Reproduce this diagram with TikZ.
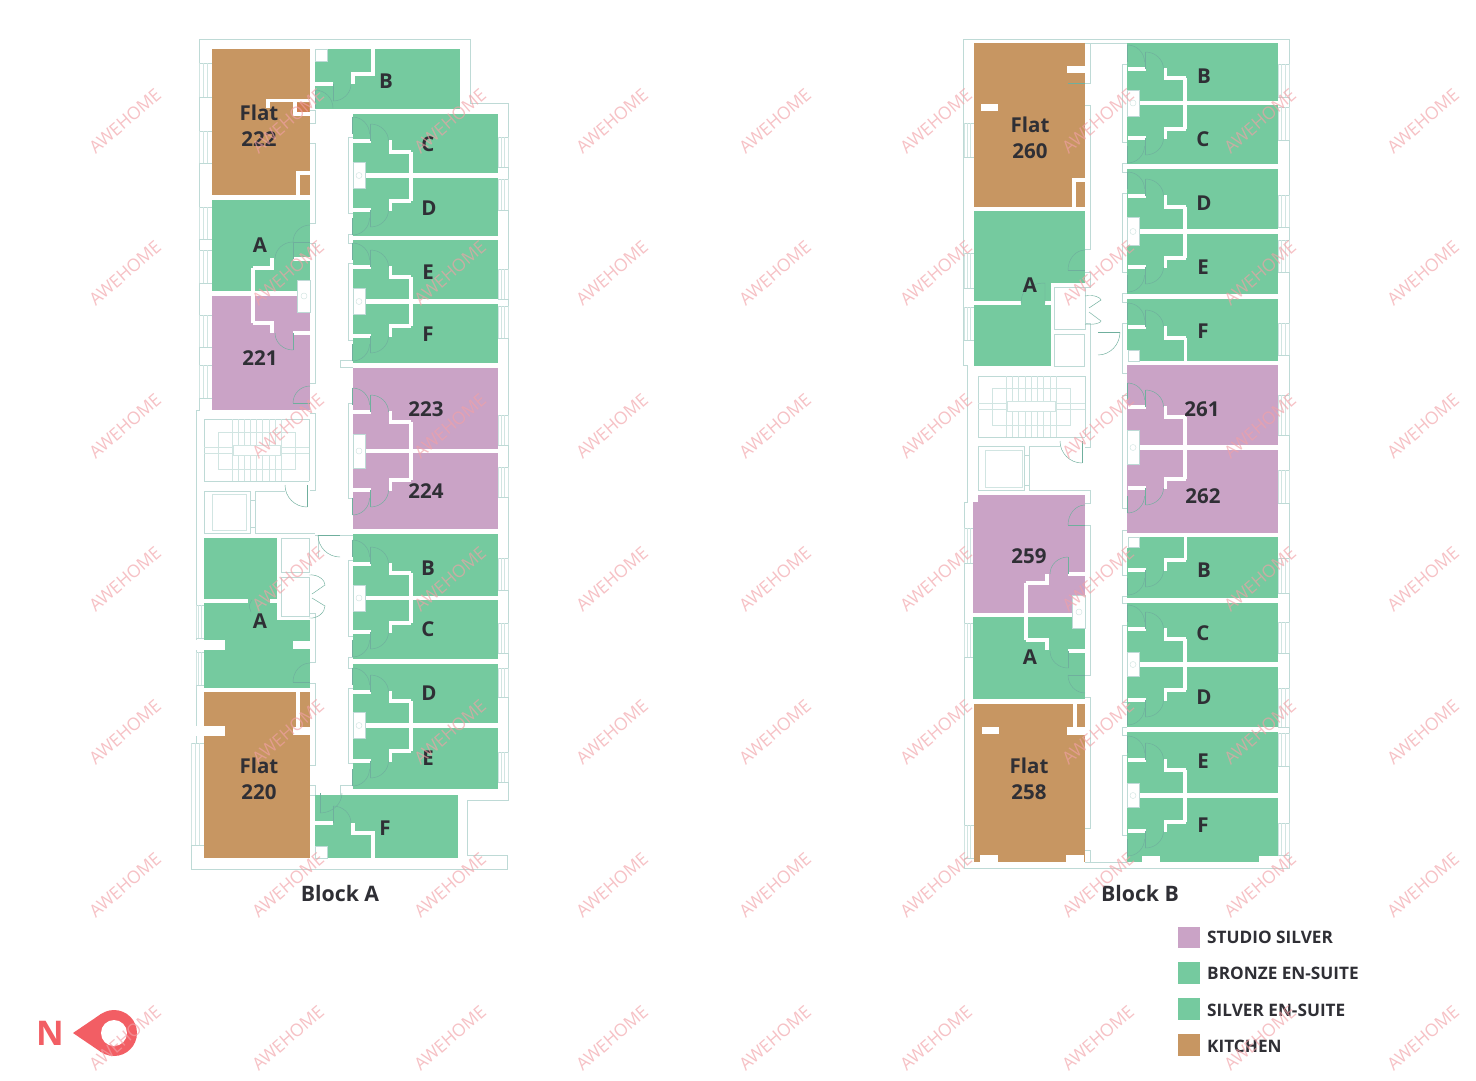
\documentclass[tikz,border=0pt]{standalone}
\usepackage{fontspec}
\setmainfont{Open Sans}
\definecolor{rgreen}{HTML}{75CA9F}
\definecolor{rpurple}{HTML}{CAA3C6}
\definecolor{rbrown}{HTML}{C79662}
\definecolor{lnc}{HTML}{BEDAD6}
\definecolor{drc}{HTML}{6FAF9D}
\definecolor{ink}{HTML}{2F2F35}
\definecolor{wm}{HTML}{F2A0A6}
\definecolor{redm}{HTML}{F25E64}
\tikzset{
  wl/.style={draw=white,line width=3.2pt},
  ol/.style={draw=lnc,line width=0.8pt},
  dr/.style={draw=drc,line width=0.45pt},
  fn/.style={draw=lnc!70!white,line width=0.45pt},
  lbl/.style={font=\bfseries\fontsize{20.5}{21}\selectfont,text=ink,inner sep=0pt},
  blk/.style={font=\bfseries\fontsize{21.3}{22}\selectfont,text=ink,inner sep=0pt},
  leg/.style={font=\bfseries\fontsize{17.2}{18}\selectfont,text=ink,inner sep=0pt,anchor=west},
  wmark/.style={font=\fontsize{17.5}{18}\selectfont,text=wm,opacity=.65,rotate=41,inner sep=0pt}
}
\newcommand\rmbox[5]{\fill[#1] (#2,#3) rectangle (#4,#5);}
\newcommand\whbox[4]{\fill[white] (#1,#2) rectangle (#3,#4);}
\newcommand\wbox[4]{\filldraw[ol,fill=white] (#1,#2) rectangle (#3,#4);}
% quarter door: centre, vector u (leaf), vector v
\newcommand\door[6]{\draw[dr] ({#1+(#3)},{#2+(#4)}) -- (#1,#2);
 \draw[dr] ({#1+(#3)},{#2+(#4)}) .. controls ({#1+(#3)+.55*(#5)},{#2+(#4)+.55*(#6)}) and ({#1+(#5)+.55*(#3)},{#2+(#6)+.55*(#4)}) .. ({#1+(#5)},{#2+(#6)});}
\newcommand\podtop[3]{% x, stub y, bath y
 \draw[wl] (#1,#2) -- ({#1+18},#2);
 \draw[wl] ({#1+38},{#2-1}) -- ({#1+38},#3) -- ({#1+58},#3);
 \door{#1+18}{#2}{0}{-17}{18}{0}
 \door{#1}{#2-7}{0}{-17}{17}{0}}
\newcommand\podbot[3]{%
 \draw[wl] (#1,#2) -- ({#1+18},#2);
 \draw[wl] ({#1+38},{#2+1}) -- ({#1+38},#3) -- ({#1+58},#3);
 \door{#1+18}{#2}{0}{17}{18}{0}
 \door{#1}{#2+8}{0}{17}{17}{0}}
\newcommand\pairwall[6]{% x, right, centre, upper bath y, lower bath y, (sink half)
 \draw[wl] (#1,#3) -- (#2,#3);
 \draw[wl] ({#1+58},#4) -- ({#1+58},#5);
 \filldraw[ol,fill=white,line width=.7pt] (#1,{#3-#6}) rectangle ({#1+12},{#3+#6});
 \draw[fn] ({#1+6},#3) circle (3);}
\newcommand\win[4]{% x1 y1 x2 y2
 \draw[ol] (#1,#2) -- (#3,#2) (#1,#4) -- (#3,#4);
 \foreach \q in {0,.33,.67,1}{\draw[fn] ({#1+\q*(#3-#1)},#2) -- ({#1+\q*(#3-#1)},#4);}}
\newcommand\stairs[8]{% x1 y1 x2 y2 core x1 y1 x2 y2
 \draw[ol,line width=.7pt] (#1,#4) -- (#1,#2) -- (#3,#2) -- (#3,#4);
 \draw[ol,line width=.7pt] (#1,#4) -- (#3,#4);
 \draw[fn] (#5,#6) rectangle (#7,#8);
 \foreach \q in {0,.125,...,1.01}{\draw[fn] ({#5+14+\q*(#7-#5-28)},#2) -- ({#5+14+\q*(#7-#5-28)},#4);}
 \draw[fn] (#1,{(#6+#8)/2-3}) -- (#3,{(#6+#8)/2-3});
 \draw[fn] (#1,{(#6+#8)/2+3}) -- (#3,{(#6+#8)/2+3});
 \filldraw[fn,fill=white] ({#5+15},{(#6+#8)/2-5}) rectangle ({#7-15},{(#6+#8)/2+5});}
\newcounter{tx}
\newcommand\lab[3]{\stepcounter{tx}\node[lbl] (t\thetx) at (#1,#2) {#3};}
\newcommand\two[4]{\stepcounter{tx}\node[lbl] (t\thetx) at (#1,#2) {#3};\stepcounter{tx}\node[lbl] (t\thetx) at (#1,{#2+26}) {#4};}
\begin{document}
\begin{tikzpicture}[x=1pt,y=-1pt,line join=miter]
\useasboundingbox (0,0) rectangle (1476,1080);
\fill[white] (0,0) rectangle (1476,1080);

%%%%%%%% BLOCK A shell
\draw[ol] (199,410) -- (199,39) -- (470,39) -- (470,103) -- (508,103) -- (508,800) -- (467,800) -- (467,855) -- (507,855) -- (507,869) -- (191,869) -- (191,743) -- (196,743) -- (196,410) -- cycle;
\foreach \a/\b in {63/97,131/163,207/239,250/283,315/347,365/398}{\win{199}{\a}{212}{\b}}
\foreach \a/\b in {605/638,652/685}{\win{196}{\a}{204}{\b}}
\win{191}{743}{204}{845}
\foreach \a/\b in {137/167,179/210,269/299,306/338,415/445,467/497,558/590,623/653,668/697,752/782}{\win{498}{\a}{508}{\b}}
% Block A corridor walls
\foreach \a/\b in {110/123,143/223,243/383,413/490,613/662,683/765,785/795}{\draw[ol] (310,\a) -- (315,\a) -- (315,\b) -- (310,\b);}
\foreach \a/\b in {137/213,234/243,263/340,403/498,560/636,657/668,688/763}{\draw[ol] (353,\a) -- (348,\a) -- (348,\b) -- (353,\b);}
\draw[ol] (353,360) -- (340,360) -- (340,367) -- (353,367);
\draw[ol] (353,535) -- (340,535);
\draw[ol] (353,785) -- (340,785) -- (340,795);
\draw[ol] (315,535) -- (318,535) -- (318,557);
% stairs, lift A
\stairs{204}{419}{309}{481}{218}{432}{295}{469}
\wbox{204}{491}{250}{533}
\draw[fn] (212,494) rectangle (246,530);
\draw[ol] (250,500) -- (255,500) (250,527) -- (255,527);
\draw[ol] (255,533) -- (255,491) -- (285,491);
\door{307}{485}{0}{22}{-22}{0}
\draw[ol] (255,533) -- (315,533);
% lobby A
\wbox{281}{538}{309}{572}
\wbox{281}{577}{309}{616}
\draw[dr] (309,575) .. controls (318,574) and (325,580) .. (325,585) -- (312,594);
\draw[dr] (309,618) .. controls (318,619) and (325,612) .. (325,606) -- (312,598);
\door{340}{535}{-22}{0}{0}{22}

%%%%%%%% BLOCK A rooms
\rmbox{rbrown}{212}{49}{310}{195}
\rmbox{rgreen}{212}{200}{310}{291}
\rmbox{rpurple}{212}{296}{310}{410}
\rmbox{rgreen}{315}{49}{460}{109}
\rmbox{rgreen}{353}{114}{498}{173}
\rmbox{rgreen}{353}{178}{498}{236}
\rmbox{rgreen}{353}{240}{498}{299}
\rmbox{rgreen}{353}{304}{498}{363}
\rmbox{rpurple}{353}{368}{498}{449}
\rmbox{rpurple}{353}{453}{498}{529}
\rmbox{rgreen}{353}{534}{498}{596}
\rmbox{rgreen}{353}{600}{498}{659}
\rmbox{rgreen}{353}{664}{498}{723}
\rmbox{rgreen}{353}{728}{498}{789}
\rmbox{rgreen}{315}{795}{458}{858}
\rmbox{rgreen}{204}{538}{277}{688}
\rmbox{rgreen}{277}{620}{310}{688}
\rmbox{rbrown}{204}{692}{310}{858}

% Flat 222 partitions
\draw[wl] (268,108) -- (268,100.5) -- (310,100.5);
\draw[wl] (295,100.5) -- (295,114) -- (310,114);
\fill[rbrown!85!red] (297,102.5) rectangle (309,112);
\draw[wl] (298,195) -- (298,173) -- (310,173);
% Flat 220 partitions
\draw[wl] (298,692) -- (298,727);
\whbox{196}{726}{225}{736}
\whbox{293}{727}{310}{735}
% lower A voids
\draw[wl] (204,601) -- (248,601);
\draw[wl] (270,601) -- (277,601);
\whbox{196}{640}{225}{650}
\whbox{293}{641}{310}{649}
\door{310}{682}{-17}{0}{0}{-19}
\draw[dr] (251,612) .. controls (248,606) and (250,602) .. (252,600);
% A/221 pod
\draw[wl] (212,293.5) -- (310,293.5);
\draw[wl] (253,268) -- (253,323);
\draw[wl] (253,268) -- (272,268) -- (272,258);
\draw[wl] (253,323) -- (272,323) -- (272,333);
\draw[wl] (293,259) -- (310,259);
\draw[wl] (293,333) -- (310,333);
\filldraw[ol,fill=white,line width=.7pt] (297,280) rectangle (310,312);
\draw[fn] (304,296) circle (3);
\door{293}{259}{0}{-17}{-18}{0}
\door{293}{333}{0}{17}{-18}{0}
\door{310}{242}{-17}{0}{0}{-17}
\door{310}{403}{-17}{0}{0}{-17}
% B, F (Block A)
\whbox{314}{49}{328}{62}
\draw[ol] (315,49) rectangle (327,61);
\draw[wl] (373,49) -- (373,74) -- (353,74) -- (353,84);
\draw[wl] (315,84) -- (333,84);
\door{333}{84}{0}{17}{18}{0}
\door{315}{108}{0}{-18}{18}{0}
\draw[wl] (373,858) -- (373,833) -- (353,833) -- (353,823);
\draw[wl] (315,823) -- (333,823);
\door{333}{823}{0}{-17}{18}{0}
\door{320}{793}{0}{20}{22}{0}
\whbox{315}{846}{328}{858}
\draw[ol] (315,846) rectangle (327,858);
% Block A east pods
\pairwall{353}{498}{175.5}{152}{201}{13}
\podtop{352.5}{141}{152}
\podbot{352.5}{210}{201}
\pairwall{353}{498}{301.5}{277}{326}{13}
\podtop{352.5}{267}{277}
\podbot{352.5}{336}{326}
\pairwall{353}{498}{451}{422}{480}{17}
\podtop{352.5}{412}{422}
\podbot{352.5}{490}{480}
\pairwall{353}{498}{598}{573}{623}{13}
\podtop{352.5}{564}{573}
\podbot{352.5}{632}{623}
\pairwall{353}{498}{725.5}{701}{751}{13}
\podtop{352.5}{692}{701}
\podbot{352.5}{761}{751}

%%%%%%%% BLOCK B shell
\draw[ol] (963,365) -- (963,39) -- (1289,39) -- (1289,868) -- (964,868) -- (964,502) -- (967,502) -- (967,365) -- cycle;
\foreach \a/\b in {123/157,253/288,307/340,528/563,623/657,825/858}{\win{964}{\a}{974}{\b}}
\foreach \a/\b in {64/97,107/140,195/227,240/272,323/355,395/435,470/503,558/593,622/653,688/727,733/766,823/855}{\win{1278}{\a}{1289}{\b}}
\foreach \a/\b in {43/83,105/249,272/287,323/447,490/503,525/675,697/828,850/862}{\draw[ol] (1085,\a) -- (1090,\a) -- (1090,\b) -- (1085,\b);}
\foreach \a/\b in {64/142,163/172,193/272,293/302,323/373,395/508,530/575,596/603,625/702,727/735,755/835}{\draw[ol] (1127,\a) -- (1122,\a) -- (1122,\b) -- (1127,\b);}
\draw[ol] (1090,43) -- (1127,43);
\draw[ol] (1090,862) -- (1127,862);
% stairs, lift B
\stairs{978}{376}{1085}{437}{992}{388}{1070}{425}
\wbox{978}{446}{1024}{490}
\draw[fn] (985,450) rectangle (1022,487);
\draw[ol] (1024,455) -- (1029,455) (1024,485) -- (1029,485);
\draw[ol] (1029,490) -- (1029,446) -- (1060,446);
\draw[ol] (1029,490) -- (1090,490);
\door{1082}{441}{0}{22}{-22}{0}
% lobby B
\wbox{1054}{287}{1085}{329}
\wbox{1054}{334}{1084}{366}
\draw[dr] (1085,296) .. controls (1094,294) and (1101,298) .. (1101,300) -- (1089,308);
\draw[dr] (1085,324) .. controls (1094,325) and (1101,323) .. (1101,321) -- (1089,312);
\door{1098}{332}{22}{0}{0}{23}

%%%%%%%% BLOCK B rooms
\rmbox{rbrown}{974}{43}{1085}{207}
\rmbox{rgreen}{974}{211}{1085}{283}
\rmbox{rgreen}{974}{283}{1051}{366}
\rmbox{rpurple}{973}{495}{1085}{613}
\rmbox{rgreen}{973}{617}{1085}{699}
\rmbox{rbrown}{974}{704}{1085}{862}
\rmbox{rgreen}{1127}{43}{1278}{101}
\rmbox{rgreen}{1127}{105}{1278}{164}
\rmbox{rgreen}{1127}{169}{1278}{229}
\rmbox{rgreen}{1127}{234}{1278}{294}
\rmbox{rgreen}{1127}{299}{1278}{361}
\rmbox{rpurple}{1127}{365}{1278}{445}
\rmbox{rpurple}{1127}{450}{1278}{533}
\rmbox{rgreen}{1127}{537}{1278}{598}
\rmbox{rgreen}{1127}{603}{1278}{662}
\rmbox{rgreen}{1127}{667}{1278}{727}
\rmbox{rgreen}{1127}{732}{1278}{793}
\rmbox{rgreen}{1127}{798}{1278}{862}
\whbox{973}{495}{978}{502}

% Flat 260
\whbox{1067}{66}{1085}{73}
\whbox{981}{104}{998}{111}
\draw[wl] (1074,207) -- (1074,180) -- (1085,180);
\draw[dr] (1068,83) -- (1085,83);
% A upper
\draw[wl] (974,303) -- (1021,303);
\draw[wl] (1045,303) -- (1051,303);
\door{1085}{270}{-17}{0}{0}{-20}
\draw[dr] (1021,303) .. controls (1021,290) and (1030,283) .. (1045,283) -- (1045,303);
% 259 / A pod
\draw[wl] (973,615) -- (1085,615);
\draw[wl] (1026,583) -- (1026,640);
\draw[wl] (1026,583) -- (1047,583) -- (1047,574);
\draw[wl] (1026,640) -- (1047,640) -- (1047,650);
\draw[wl] (1068,574) -- (1085,574);
\draw[wl] (1068,651) -- (1085,651);
\filldraw[ol,fill=white,line width=.7pt] (1072,595) rectangle (1085,628);
\draw[fn] (1079,612) circle (3);
\door{1068}{574}{0}{-17}{-18}{0}
\door{1068}{651}{0}{17}{-18}{0}
\door{1085}{525}{-17}{0}{0}{-20}
\door{1085}{675}{-17}{0}{0}{18}
% Flat 258
\draw[wl] (1075,704) -- (1075,727);
\whbox{1067}{727}{1085}{735}
\whbox{982}{727}{999}{734}
\whbox{980}{855}{998}{862}
\whbox{1066}{855}{1084}{862}
\whbox{1142}{856}{1160}{862}
\whbox{1259}{856}{1278}{862}
% Block B east pods
\newcommand\BX{1127.5}
\pairwall{1127}{1278}{103}{78}{129}{13}
\podtop{\BX}{69}{78}
\podbot{\BX}{138}{129}
\pairwall{1127}{1278}{231.5}{207}{258}{14}
\podtop{\BX}{196}{207}
\podbot{\BX}{267}{258}
\pairwall{1127}{1278}{447.5}{417}{479}{17}
\podtop{\BX}{407}{417}
\podbot{\BX}{488}{479}
\pairwall{1127}{1278}{664.5}{639}{690}{12}
\podtop{\BX}{629}{639}
\podbot{\BX}{700}{690}
\pairwall{1127}{1278}{795.5}{770}{822}{12}
\podtop{\BX}{760}{770}
\podbot{\BX}{831}{822}
% F, B singles
\podtop{\BX}{327}{338}
\draw[wl] (1185.5,338) -- (1185.5,361);
\whbox{1127}{350}{1140}{361}
\draw[ol] (1128,350) rectangle (1139,361);
\podbot{\BX}{570}{560}
\draw[wl] (1185.5,537) -- (1185.5,560);
\whbox{1127}{537}{1140}{548}
\draw[ol] (1128,537) rectangle (1139,547);

%%%%%%%% labels
\two{259}{113}{Flat}{222}
\lab{260}{245}{A}
\lab{260}{358}{221}
\lab{386}{81}{B}
\lab{428}{144}{C}
\lab{429}{208}{D}
\lab{428}{272}{E}
\lab{428}{334}{F}
\lab{426}{409}{223}
\lab{426}{491}{224}
\lab{428}{568}{B}
\lab{428}{629}{C}
\lab{429}{693}{D}
\lab{428}{758}{E}
\lab{260}{621}{A}
\two{259}{766}{Flat}{220}
\lab{385}{828}{F}
\two{1030}{125}{Flat}{260}
\lab{1030}{285}{A}
\lab{1029}{556}{259}
\lab{1030}{657}{A}
\two{1029}{766}{Flat}{258}
\lab{1204}{76}{B}
\lab{1203}{139}{C}
\lab{1204}{203}{D}
\lab{1203}{267}{E}
\lab{1203}{331}{F}
\lab{1202}{409}{261}
\lab{1203}{496}{262}
\lab{1204}{570}{B}
\lab{1203}{633}{C}
\lab{1204}{697}{D}
\lab{1203}{761}{E}
\lab{1203}{825}{F}
\node[blk] (ba) at (340,893) {Block A};
\node[blk] (bb) at (1140,893) {Block B};

%%%%%%%% legend
\rmbox{rpurple}{1178}{927}{1200}{948}
\rmbox{rgreen}{1178}{962}{1200}{984}
\rmbox{rgreen}{1178}{998}{1200}{1020}
\rmbox{rbrown}{1178}{1034}{1200}{1056}
\node[leg] (l1) at (1207,937.5) {STUDIO SILVER};
\node[leg] (l2) at (1207,973.5) {BRONZE EN-SUITE};
\node[leg] (l3) at (1207,1010) {SILVER EN-SUITE};
\node[leg] (l4) at (1207,1046) {KITCHEN};

%%%%%%%% compass
\fill[redm] (73,1033) -- (101,1014) -- (101,1052) -- cycle;
\fill[redm] (114,1033) circle (23);
\fill[white] (114,1033) circle (13);
\node[font=\bfseries\fontsize{34}{34}\selectfont,text=redm,inner sep=0pt] (north) at (50,1033) {N};

%%%%%%%% watermark
\foreach \wx in {125,288,450,612,775,936,1098,1260,1423}{
 \foreach \wy in {121,273,426,579,732,885,1038}{
  \node[wmark] at (\wx,\wy) {AWEHOME};}}
\end{tikzpicture}
\end{document}
